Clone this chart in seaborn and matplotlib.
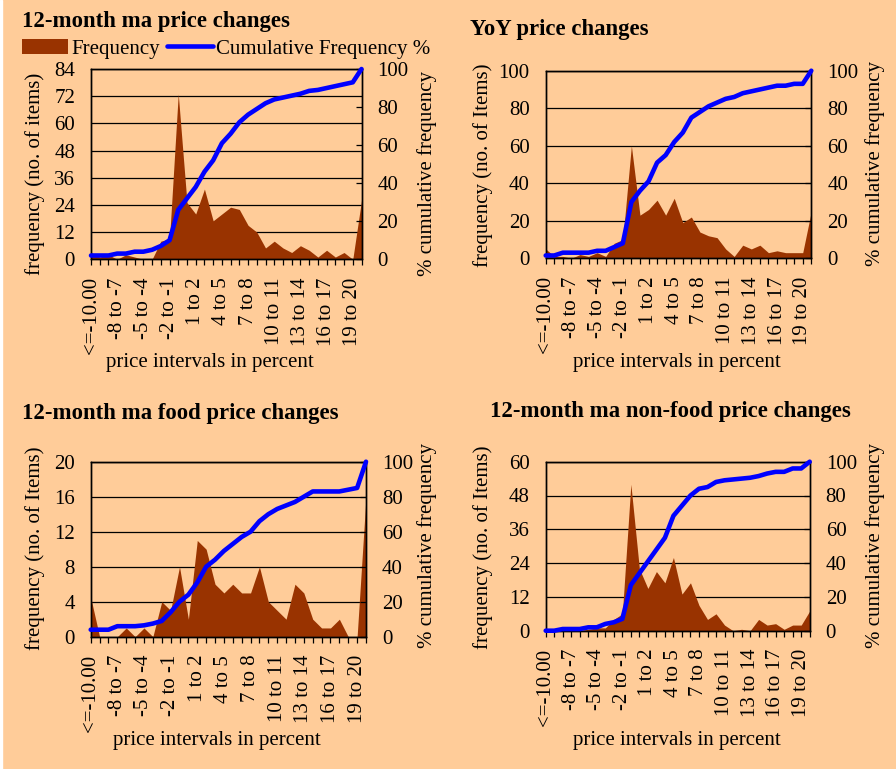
import numpy as np
import pandas as pd
import matplotlib
matplotlib.use("Agg")
import matplotlib.pyplot as plt
from matplotlib.patches import Patch, Rectangle
from matplotlib.lines import Line2D
import seaborn as sns

# price change intervals (categories on the x axis)
intervals = ["<=-10.00", "-10 to -9", "-9 to -8", "-8 to -7", "-7 to -6", "-6 to -5",
             "-5 to -4", "-4 to -3", "-3 to -2", "-2 to -1", "-1 to 0", "0 to 1",
             "1 to 2", "2 to 3", "3 to 4", "4 to 5", "5 to 6", "6 to 7", "7 to 8",
             "8 to 9", "9 to 10", "10 to 11", "11 to 12", "12 to 13", "13 to 14",
             "14 to 15", "15 to 16", "16 to 17", "17 to 18", "18 to 19", "19 to 20", ">20"]

# 12-month ma price changes
freq_ma = [3, 1, 2, 0, 2, 1, 0, 0, 8, 9, 73, 25, 20, 31, 17, 20, 23, 22, 15, 12, 5, 8,
           5, 3, 6, 4, 1, 4, 1, 3, 0, 26]
cum_ma = [2, 2, 2, 3, 3, 4, 4, 5, 7, 10, 26, 32, 38, 46, 52, 61, 66, 72, 76, 79, 82, 84,
          85, 86, 87, 88.5, 89, 90, 91, 92, 93, 100]

# YoY price changes
freq_yoy = [5, 1, 1, 0, 2, 1, 3, 1, 8, 10, 60, 23, 26, 31, 23, 32, 19, 22, 14, 12, 11, 5,
            1, 7, 5, 7, 3, 4, 3, 3, 3, 25]
cum_yoy = [1.5, 1.5, 3, 3, 3, 3, 4, 4, 6, 8, 30, 36, 41, 51, 55, 62, 67, 75, 78, 81, 83, 85,
           86, 88, 89, 90, 91, 92, 92, 93, 93, 100]

# 12-month ma food price changes
freq_food = [4.5, 0, 0, 0, 1, 0, 1, 0, 4, 3, 8, 2, 11, 10, 6, 5, 6, 5, 5, 8, 4, 3, 2, 6,
             5, 2, 1, 1, 2, 0, 0, 16]
cum_food = [4, 4, 4, 6, 6, 6, 6.5, 7.5, 9, 14, 20, 24, 31, 40, 44, 49, 53, 57, 60, 66, 70,
            73, 75, 77, 80, 83, 83, 83, 83, 84, 85, 100]

# 12-month ma non-food price changes
freq_nonfood = [0, 0, 0, 0, 0, 0.5, 1, 1, 4, 6, 52, 22, 15, 21, 17, 26, 13, 17, 9, 4, 6, 2,
                0, 0.5, 0, 4, 2, 2.5, 0.5, 2, 2, 7]
cum_nonfood = [0, 0, 1, 1, 1, 2, 2, 4, 5, 7, 27, 34, 41, 48, 55, 68, 74, 80, 84, 85, 88, 89,
               89.5, 90, 90.5, 91.5, 93, 94, 94, 96, 96, 100]

BG = "#FFCC99"
BROWN = "#993300"
BLUE = "#0000FF"

sns.set_theme(style="white", rc={"text.color": "black", "axes.labelcolor": "black",
                                 "xtick.color": "black", "ytick.color": "black"})
plt.rcParams["font.family"] = ["Liberation Serif", "DejaVu Serif"]
plt.rcParams["font.size"] = 15

W, H = 896, 769
fig = plt.figure(figsize=(W / 100, H / 100), dpi=100, facecolor=BG)
fig.patches.append(Rectangle((0, 0), 2 / W, 1, transform=fig.transFigure,
                             color="white", zorder=0))


def fx(px):
    return px / W


def fy(py):
    return 1 - py / H


def draw_panel(freq, cum, ymax, ystep, ylab, box, title, title_xy, title_ha,
               ylab_xy, y2lab_xy, xlab_xy):
    l, t, r, b = box
    ax = fig.add_axes([fx(l), fy(b), (r - l) / W, (b - t) / H])
    ax.set_facecolor(BG)
    x = np.arange(len(intervals))

    # frequency as an area chart
    ax.fill_between(x, 0, freq, color=BROWN, lw=0, zorder=2)
    ax.set_xlim(0, len(intervals) - 1)
    ax.set_ylim(0, ymax)
    ax.set_yticks(np.arange(0, ymax + 1, ystep))
    ax.yaxis.grid(True, color="black", lw=0.9)
    ax.set_axisbelow(True)
    ax.tick_params(axis="y", left=False, length=0, pad=11.5, labelsize=15)
    ax.set_xticks(x)
    ax.set_xticklabels([lab if i % 3 == 0 else "" for i, lab in enumerate(intervals)],
                       rotation=90, va="top", ha="center")
    ax.tick_params(axis="x", bottom=True, direction="out", length=4, width=0.9,
                   pad=9, labelsize=15)

    # cumulative % on the secondary axis
    ax2 = ax.twinx()
    df = pd.DataFrame({"interval": x, "cum": cum})
    sns.lineplot(data=df, x="interval", y="cum", ax=ax2, color=BLUE, lw=3.3,
                 clip_on=False, zorder=5)
    ax2.set_ylim(0, 100)
    ax2.set_yticks(range(0, 101, 20))
    ax2.tick_params(axis="y", right=True, direction="in", length=4, width=0.9,
                    pad=11.5, labelsize=15)
    ax2.set_xlabel("")
    ax2.set_ylabel("")
    for a in (ax, ax2):
        for sp in a.spines.values():
            sp.set_color("black")
            sp.set_linewidth(1.0)

    fig.text(fx(title_xy[0]), fy(title_xy[1]), title, fontsize=16.4, fontweight="bold",
             ha=title_ha, va="center")
    fig.text(fx(ylab_xy[0]), fy(ylab_xy[1]), ylab, rotation=90, ha="center",
             va="center", fontsize=15)
    fig.text(fx(y2lab_xy[0]), fy(y2lab_xy[1]), "% cumulative frequency", rotation=90,
             ha="center", va="center", fontsize=15)
    fig.text(fx(xlab_xy[0]), fy(xlab_xy[1]), "price intervals in percent",
             ha="center", va="center", fontsize=15)
    return ax


draw_panel(freq_ma, cum_ma, 84, 12, "frequency (no. of items)",
           (91, 69, 361.5, 259.3), "12-month ma price changes", (22, 21), "left",
           (35, 174), (427, 174), (210, 362))
draw_panel(freq_yoy, cum_yoy, 100, 20, "frequency (no. of Items)",
           (545.7, 70.7, 811.3, 258.3), "YoY price changes", (470, 29), "left",
           (483, 165), (875, 163), (677, 362))
draw_panel(freq_food, cum_food, 20, 4, "frequency (no. of Items)",
           (90.7, 461.7, 366, 636.7), "12-month ma food price changes", (22, 414), "left",
           (35, 548), (427, 545), (217, 741))
draw_panel(freq_nonfood, cum_nonfood, 60, 12, "frequency (no. of Items)",
           (545.7, 461.7, 809.7, 630.7), "12-month ma non-food price changes", (670, 411),
           "center", (483, 547), (875, 545), (677, 740))

# legend for the top-left panel
handles = [Patch(facecolor=BROWN, edgecolor="none"), Line2D([], [], color=BLUE, lw=3.3)]
fig.legend(handles=handles, labels=["Frequency", "Cumulative Frequency %"],
           loc="center left", bbox_to_anchor=(fx(22), fy(49)), ncol=2, frameon=False,
           handlelength=2.2, handletextpad=0.15, columnspacing=0.35, borderpad=0,
           borderaxespad=0, fontsize=15)

fig.savefig("out.png", dpi=100, facecolor=BG)
